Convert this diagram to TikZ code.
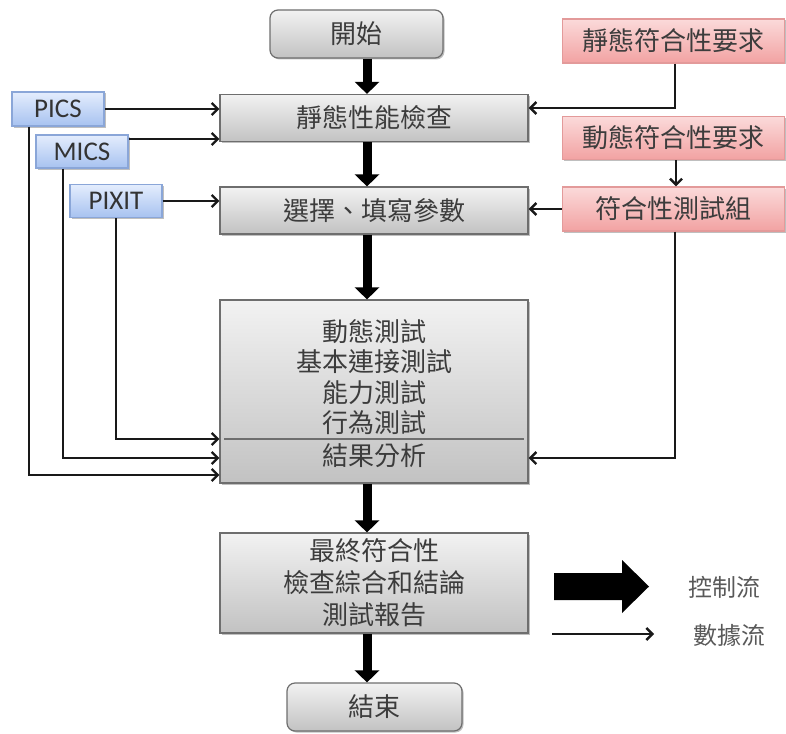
\documentclass[tikz,border=0pt]{standalone}
\usepackage{fontspec}
\setmainfont{Noto Sans CJK TC}
\newfontfamily\latinfont{Carlito}
\usetikzlibrary{arrows.meta,shadows}
\definecolor{txt}{HTML}{3C3C3C}
\definecolor{grayT}{HTML}{F2F2F2}
\definecolor{grayB}{HTML}{C2C2C2}
\definecolor{grayL}{HTML}{6E6E6E}
\definecolor{redT}{HTML}{FBDADA}
\definecolor{redB}{HTML}{F2A2A2}
\definecolor{redL}{HTML}{E39A9A}
\definecolor{bluT}{HTML}{E4EDFD}
\definecolor{bluB}{HTML}{A7C2F0}
\definecolor{bluL}{HTML}{8AA6D8}
\tikzset{
  shad/.style={drop shadow={shadow xshift=1.5pt,shadow yshift=-1.5pt,opacity=0.25,fill=black}},
  graybox/.style={shad,draw=grayL,line width=1.2pt,top color=grayT,bottom color=grayB,
    text=txt,font=\fontsize{26}{32}\selectfont,align=center,inner sep=0pt,minimum width=308pt},
  termbox/.style={graybox,rounded corners=8pt,minimum width=173pt,minimum height=48pt},
  redbox/.style={shad,draw=redL,line width=1.2pt,top color=redT,bottom color=redB,
    text=txt,font=\fontsize{26}{31}\selectfont,inner sep=0pt,minimum width=222pt,minimum height=44pt},
  blubox/.style={shad,draw=bluL,line width=1.2pt,top color=bluT,bottom color=bluB,
    text=black!80,font=\latinfont\fontsize{27}{30}\selectfont,inner sep=0pt,minimum width=92pt,minimum height=33pt},
  ctl/.style={line width=9pt,draw=black,-{Triangle[length=12pt,width=24pt]}},
  dat/.style={line width=2.4pt,draw=black!90,-{Straight Barb[length=6pt,width=12pt,line width=2.4pt]}},
  lbl/.style={text=txt,font=\fontsize{26}{31}\selectfont,inner sep=0pt},
  leg/.style={text=black!65,font=\fontsize{24}{30}\selectfont,inner sep=0pt}
}
\begin{document}
\begin{tikzpicture}[x=1pt,y=-1pt]
\useasboundingbox (0,0) rectangle (786,733);
% control flow column
\coordinate (m) at (367,0);
% main boxes
\node[termbox] (start) at (356.5,34) {開始};
\node[graybox,minimum height=47pt] (static) at (374,118) {靜態性能檢查};
\node[graybox,minimum height=47pt] (select) at (374,210.5) {選擇、填寫參數};
\node[graybox,minimum height=183pt] (dyn) at (374,391.5) {};
\node[lbl] (t1) at (374,332) {動態測試};
\node[lbl] (t2) at (374,362) {基本連接測試};
\node[lbl] (t3) at (374,393) {能力測試};
\node[lbl] (t4) at (374,423) {行為測試};
\node[lbl] (t5) at (374,456) {結果分析};
\draw[line width=1.2pt,draw=grayL] (224,439) -- (524,439);
\node[graybox,minimum height=100pt] (final) at (374,583) {最終符合性\\檢查綜合和結論\\測試報告};
\node[termbox,minimum width=175pt] (end) at (374.5,707) {結束};
% requirement boxes
\node[redbox] (sreq) at (673.5,41) {靜態符合性要求};
\node[redbox,minimum height=43pt] (dreq) at (673.5,138) {動態符合性要求};
\node[redbox] (suite) at (673.5,209) {符合性測試組};
% input boxes
\node[blubox,minimum height=34pt] (pics) at (58,109) {PICS};
\node[blubox] (mics) at (82,151.5) {MICS};
\node[blubox] (pixit) at (116,201) {PIXIT};
% control flow
\draw[ctl] (start.south -| m) -- (static.north -| m);
\draw[ctl] (static.south -| m) -- (select.north -| m);
\draw[ctl] (select.south -| m) -- (dyn.north -| m);
\draw[ctl] (dyn.south -| m) -- (final.north -| m);
\draw[ctl] (final.south -| m) -- (end.north -| m);
% data flow
\draw[dat] (pics.east) -- (static.west |- pics.east);
\draw[dat] (mics.east |- 0,139) -- (static.west |- 0,139);
\draw[dat] (pixit.east) -- (select.west |- pixit.east);
\draw[dat] (sreq.south -| 675,0) |- (static.east |- 0,108);
\draw[dat] (dreq.south -| 676,0) -- (suite.north -| 676,0);
\draw[dat] (suite.west) -- (select.east |- suite.west);
\draw[dat] (suite.south -| 675,0) |- (dyn.east |- 0,458);
\draw[dat] (pics.south -| 29,0) |- (dyn.west |- 0,475);
\draw[dat] (mics.south -| 63,0) |- (dyn.west |- 0,458);
\draw[dat] (pixit.south -| 116,0) |- (dyn.west |- 0,439);
% legend
\fill[black] (554,573) -- (622,573) -- (622,560) -- (649,586.5) -- (622,613) -- (622,600) -- (554,600) -- cycle;
\node[leg] (lctl) at (724,587) {控制流};
\coordinate (la) at (552,634);
\coordinate (lb) at (654,634);
\draw[dat] (la) -- (lb);
\node[leg] (ldat) at (729,635) {數據流};
\end{tikzpicture}
\end{document}
